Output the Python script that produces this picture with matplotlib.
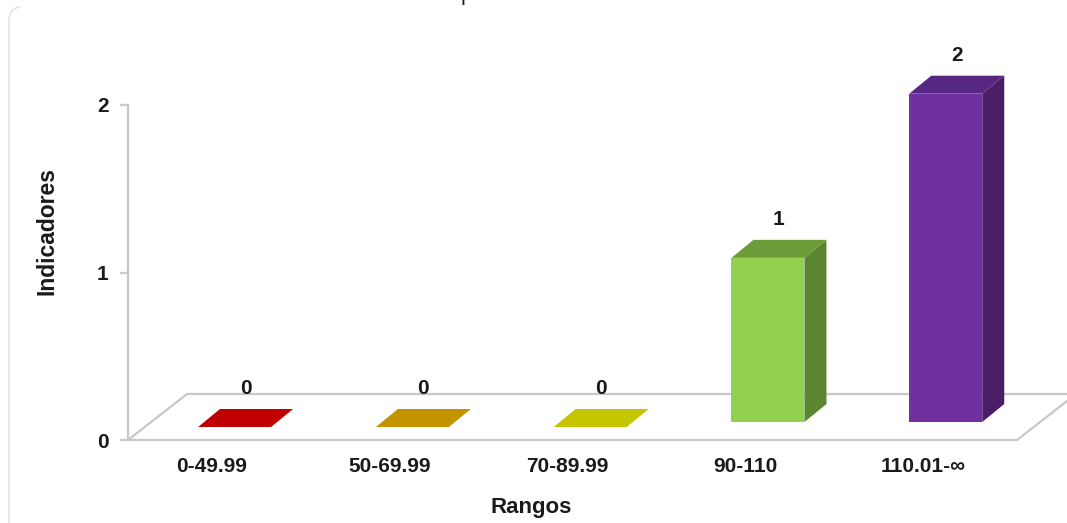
import matplotlib.pyplot as plt
from matplotlib.patches import Polygon
from matplotlib.path import Path
from matplotlib.patches import PathPatch

plt.rcParams['font.family'] = ['Liberation Sans', 'DejaVu Sans']

categories = ["0-49.99", "50-69.99", "70-89.99", "90-110", "110.01-\u221e"]
values = [0, 0, 0, 1, 2]
front_colors = ["#c00000", "#c39400", "#c5c500", "#92d050", "#7030a0"]
top_colors = ["#c00000", "#c39400", "#c5c500", "#6c9b3a", "#582683"]
side_colors = ["#c00000", "#c39400", "#c5c500", "#5c8530", "#4b1d66"]
y_ticks = [0, 1, 2]

W, H = 1067, 523
fig = plt.figure(figsize=(W / 100, H / 100), dpi=100)
ax = fig.add_axes([128 / W, (H - 440) / H, 889 / W, 335 / H])
ax.set_xlim(-0.47, 4.53)
ax.set_ylim(0, 2)

px_x = 889 / 5.0      # pixels per category unit
px_y = 335 / 2.0      # pixels per value unit

# floor depth
fdx, fdy = 59 / px_x, 46 / px_y
# bar placement inside the floor
bx = 23 / px_x
by_bar, by_flat = 18 / px_y, 13 / px_y
bw = 73 / px_x
ddx, ddy = 22 / px_x, 18 / px_y
persp = 0.98

floor_kw = dict(color="#c8c8c8", lw=1.6, clip_on=False, solid_capstyle="round")
x0, x1 = ax.get_xlim()
ax.plot([x0, x0 + fdx, x1 + fdx], [0, fdy, fdy], **floor_kw)
ax.plot([x1, x1 + fdx], [0, fdy], **floor_kw)

for i, v in enumerate(values):
    xl = i - bw / 2 + bx
    xr = xl + bw
    if v == 0:
        yb = yt = by_flat
        ax.add_patch(Polygon([(xl, yb), (xr, yb), (xr + ddx, yb + ddy), (xl + ddx, yb + ddy)],
                             closed=True, fc=front_colors[i], ec="none", clip_on=False, zorder=3))
    else:
        yb = by_bar
        yt = by_bar + v * persp
        ax.add_patch(Polygon([(xr, yb), (xr + ddx, yb + ddy), (xr + ddx, yt + ddy), (xr, yt)],
                             closed=True, fc=side_colors[i], ec="none", clip_on=False, zorder=3))
        ax.add_patch(Polygon([(xl, yt), (xr, yt), (xr + ddx, yt + ddy), (xl + ddx, yt + ddy)],
                             closed=True, fc=top_colors[i], ec="none", clip_on=False, zorder=3))
        ax.add_patch(Polygon([(xl, yb), (xr, yb), (xr, yt), (xl, yt)],
                             closed=True, fc=front_colors[i], ec="none", clip_on=False, zorder=4))
    ax.text((xl + xr) / 2 + ddx / 2, yt + ddy + 20 / px_y, str(v), ha="center", va="center",
            fontsize=15, fontweight="bold", color="#1a1a1a", clip_on=False)

ax.set_xticks(range(len(categories)))
ax.set_xticklabels(categories)
ax.set_yticks(y_ticks)
ax.tick_params(axis="x", length=0, pad=12, labelsize=15, labelcolor="#1a1a1a")
ax.tick_params(axis="y", length=6, width=1.6, color="#c8c8c8", pad=8,
               labelsize=15, labelcolor="#1a1a1a")
for lab in ax.get_xticklabels() + ax.get_yticklabels():
    lab.set_fontweight("bold")

for s in ["top", "right"]:
    ax.spines[s].set_visible(False)
for s in ["left", "bottom"]:
    ax.spines[s].set_color("#c8c8c8")
    ax.spines[s].set_linewidth(1.6)
ax.patch.set_visible(False)

ax.set_ylabel("Indicadores", fontsize=16.5, fontweight="bold", color="#1a1a1a")
ax.yaxis.set_label_coords((47 - 128) / 889, (440 - 231) / 335)
ax.yaxis.label.set_va("center")
ax.set_xlabel("Rangos", fontsize=16, fontweight="bold", color="#1a1a1a")
ax.xaxis.set_label_coords((531 - 128) / 889, (440 - 507) / 335)
ax.xaxis.label.set_va("center")

# cut-off title descender at the very top
fig.text(461 / W, 1.0, "p", fontsize=16, color="#1a1a1a", ha="left", va="baseline")

# faint chart border on the left with rounded corner
verts = [(9 / W, 0.0), (9 / W, 1 - 20 / H), (9 / W, 1 - 8 / H), (20 / W, 1 - 7 / H)]
codes = [Path.MOVETO, Path.LINETO, Path.CURVE3, Path.CURVE3]
fig.add_artist(PathPatch(Path(verts, codes), transform=fig.transFigure,
                         fc="none", ec="#e3e3e3", lw=1.2))

fig.savefig("out.png", dpi=100)
